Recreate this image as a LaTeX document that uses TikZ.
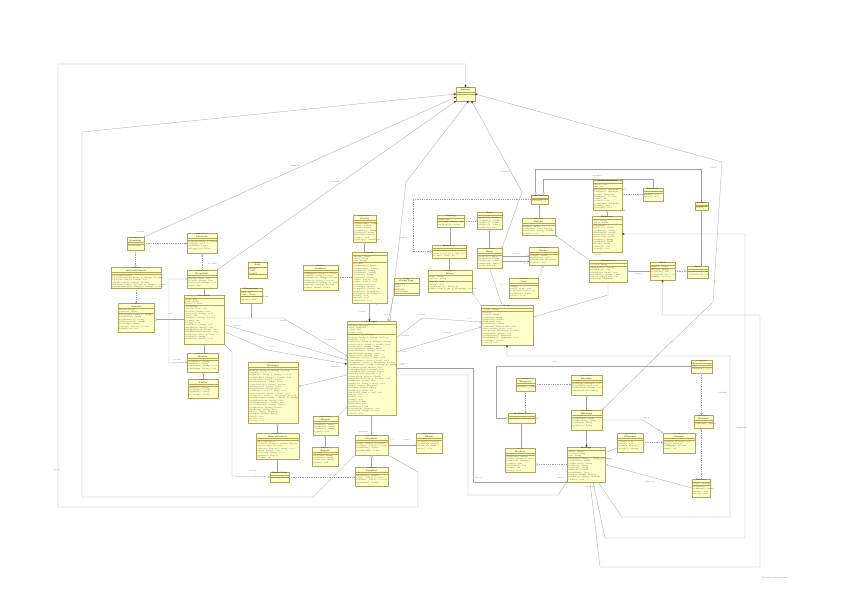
\documentclass[tikz,border=0pt]{standalone}
\usepackage{tikz}
\usetikzlibrary{arrows.meta, positioning}

\definecolor{kfill}{HTML}{FFFFC8}
\definecolor{krand}{HTML}{B4A460}
\definecolor{klinie}{HTML}{A2A2A2}
\definecolor{krot}{HTML}{8B1A1A}

% Klasse: Name, Position, Breite, Hoehe, Titel, Strich 1, Strich 2, Attribute, Methoden
\newcommand{\klasse}[9]{%
	\node[kbox, minimum width=#3pt, minimum height=#4pt] (#1) at (#2) {};
	\node[ktitel] at (#1.north) {#5};
	\draw[kstrich] ([yshift=-#6pt]#1.north west) -- ([yshift=-#6pt]#1.north east);
	\draw[kstrich] ([yshift=-#7pt]#1.north west) -- ([yshift=-#7pt]#1.north east);
	\node[ktext] at ([yshift=-#6pt]#1.north west) {#8};
	\node[ktext] at ([yshift=-#7pt]#1.north west) {#9};
}

\begin{document}
\begin{tikzpicture}[x=1pt, y=-1pt,
	kbox/.style={draw=krand, fill=kfill, line width=0.35pt, anchor=north west, inner sep=0pt, outer sep=0pt},
	ktitel/.style={anchor=north, inner sep=0.4pt, align=center, text=black!85, font=\fontsize{1.9}{2.2}\selectfont},
	ktext/.style={anchor=north west, inner sep=0.5pt, align=left, text=black!80, font=\fontsize{1.8}{2.3}\selectfont},
	kstrich/.style={draw=krand, line width=0.3pt},
	verb/.style={draw=klinie, line width=0.28pt},
	abh/.style={verb, dash pattern=on 1pt off 0.8pt, -{Straight Barb[length=1.4pt, width=2pt]}},
	vererb/.style={verb, -{Triangle[open, length=2.4pt, width=2.6pt, fill=white]}},
	realis/.style={vererb, dash pattern=on 1pt off 0.8pt},
	nav/.style={verb, -{Straight Barb[length=1.4pt, width=2pt]}},
	nav2/.style={verb, {Straight Barb[length=1.4pt, width=2pt]}-{Straight Barb[length=1.4pt, width=2pt]}},
	komp/.style={verb, {Diamond[color=krot, fill=krot, length=2.6pt, width=1.8pt]}-},
	kompnav/.style={verb, {Diamond[color=krot, fill=krot, length=2.6pt, width=1.8pt]}-{Straight Barb[length=1.4pt, width=2pt]}},
	kompe/.style={verb, -{Diamond[color=krot, fill=krot, length=2.6pt, width=1.8pt]}},
	aggr/.style={verb, {Diamond[open, fill=white, length=2.6pt, width=1.8pt]}-},
	lbl/.style={font=\fontsize{1.7}{2}\selectfont, inner sep=0.2pt, text=black!70}]

	% Rahmen
	\fill[white] (0,0) rectangle (848,600);
	\useasboundingbox (0,0) rectangle (848,600);

	% Klassen links
	\klasse{sys}{456,87}{19}{14}{«system»\\\textbf{Sistema}}{5.6}{7.6}{}{}
	\klasse{launcher}{127,237}{17}{13}{«control»\\\textbf{Launcher}}{5.6}{7.2}{}{+main(args)}
	\klasse{iaccount}{187,233}{30}{20}{«interface»\\\textbf{IAccount}}{5.6}{7.2}{}{+login(u: String, p: String)\\+logout(): void\\+getUser(): User\\+isLogged(): boolean}
	\klasse{accctl}{111,267}{50}{21}{«control»\\\textbf{AccountControl}}{5.6}{7.2}{}{+AccountControl()\\+createAccount(u: String, p: String): Account\\+deleteAccount(id: String): void\\+findAccount(id: String): Account\\+updateAccount(a: Account, m: String): boolean\\+checkPassword(id: String, p: String): boolean}
	\klasse{account}{118,303}{36}{29}{«entity»\\\textbf{Account}}{5.6}{10.6}{-userId: String\\-password: String}{+Account(u: String, p: String)\\+getUserId(): String\\+getPassword(): String\\+setPassword(p: String)\\+toString(): String\\+equals(o: Object): boolean\\+hashCode(): int}
	\klasse{iuserdao}{187,270}{30}{18}{«interface»\\\textbf{IUserDAO}}{5.6}{7.2}{}{+save(u: User): void\\+load(id: String): User\\+remove(id: String): void\\+list(): List}
	\klasse{userdao}{184,295}{40}{49}{\textbf{UserDAO}}{3.2}{10.4}{-users: Map\\-path: String\\-loaded: boolean}{+UserDAO()\\+save(u: User): void\\+load(id: String): User\\+remove(id: String): void\\+list(): List\\+exists(id: String): boolean\\+count(): int\\+clear(): void\\-readFile(p: String): void\\-writeFile(p: String): void\\+findByName(n: String): User\\+findByMail(m: String): User\\+update(u: User): boolean\\+getPath(): String\\+setPath(p: String): void}
	\klasse{iprofile}{187,353}{31}{19}{«interface»\\\textbf{IProfile}}{5.6}{7.2}{}{+getName(): String\\+getMail(): String\\+setName(n: String): void\\+setMail(m: String): void}
	\klasse{profile}{188,379}{30}{19}{«entity»\\\textbf{Profile}}{5.6}{7.2}{}{+Profile(n: String)\\+getName(): String\\+getMail(): String\\+toString(): String}
	\klasse{role}{248,262}{19}{16}{«enum»\\\textbf{Role}}{5.6}{12.5}{ADMIN\\USER\\GUEST}{}
	\klasse{perm}{240,288}{22}{15}{\textbf{Permission}}{3.2}{7.8}{-level: int\\-name: String}{+check(r: Role): boolean\\+grant(r: Role)}

	% Klassen Mitte
	\klasse{validator}{303,265}{35}{25}{«utility»\\\textbf{Validator}}{5.6}{7.2}{}{+isEmpty(s: String): boolean\\+isMail(s: String): boolean\\+isNumber(s: String): boolean\\+isDate(s: String): boolean\\+isAmount(s: String): boolean\\+isCode(s: String): boolean\\+trim(s: String): String}
	\klasse{icredit}{353,215}{23}{27}{«interface»\\\textbf{ICredit}}{5.6}{7.2}{}{+getAmount(): double\\+add(v: double)\\+sub(v: double)\\+getOwner(): String\\+getDate(): String\\+isValid(): boolean\\+reset(): void\\+getType(): CreditType}
	\klasse{credit}{352,252}{35}{51}{\textbf{Credit}}{3.2}{10.4}{-amount: double\\-owner: String\\-date: String}{+Credit()\\+getAmount(): double\\+setAmount(a: double)\\+getOwner(): String\\+setOwner(o: String)\\+getDate(): String\\+setDate(d: String)\\+add(v: double): void\\+sub(v: double): void\\+isValid(): boolean\\+toString(): String\\+compare(c: Credit): int\\+getType(): CreditType\\+setType(t: CreditType)\\+reset(): void\\+freeze(): void\\+unfreeze(): void}
	\klasse{credtype}{394,278}{25}{17}{«enum»\\\textbf{CreditType}}{5.6}{14.8}{BONUS\\GIFT\\REFUND\\STANDARD}{}
	\klasse{manager}{347,321}{49}{94}{\textbf{Manager}}{3.2}{12.8}{-instance: Manager\\-users: UserDAO\\-orders: List\\-credits: List}{+getInstance(): Manager\\+login(u: String, p: String): boolean\\+logout(): void\\+register(u: String, p: String): boolean\\+addCredit(u: String, v: double): void\\+getCredit(u: String): double\\+createOrder(u: String): Order\\+cancelOrder(id: String): boolean\\+findOrder(id: String): Order\\+listOrders(u: String): List\\+addItem(o: Order, i: Item): void\\+removeItem(o: Order, i: Item): void\\+checkout(o: Order, p: IPayment): boolean\\+sendMessage(f: String, t: String, m: String): void\\+readMessages(u: String): List\\+deleteMessage(id: String): void\\+createReport(u: String): Report\\+printReport(r: Report): void\\+getProfile(u: String): Profile\\+setProfile(u: String, p: Profile): void\\+getRole(u: String): Role\\+setRole(u: String, r: Role): void\\+ship(o: Order): Shipment\\+track(id: String): String\\+getStock(i: Item): int\\+setStock(i: Item, n: int): void\\+save(): void\\+load(): void\\+reset(): void\\+getUsers(): List\\+getItems(): List\\+getShelves(): List\\+notifyAll(m: Message): void\\+validate(s: String): boolean\\+close(): void}
	\klasse{imanager}{248,362}{50}{61}{«interface»\\\textbf{IManager}}{5.6}{7.2}{}{+login(u: String, p: String): boolean\\+logout(): void\\+register(u: String, p: String): boolean\\+addCredit(u: String, v: double): void\\+getCredit(u: String): double\\+createOrder(u: String): Order\\+cancelOrder(id: String): boolean\\+findOrder(id: String): Order\\+listOrders(u: String): List\\+addItem(o: Order, i: Item): void\\+removeItem(o: Order, i: Item): void\\+checkout(o: Order, p: IPayment): boolean\\+sendMessage(f: String, t: String, m: String)\\+readMessages(u: String): List\\+deleteMessage(id: String): void\\+createReport(u: String): Report\\+getProfile(u: String): Profile\\+getRole(u: String): Role\\+ship(o: Order): Shipment\\+track(id: String): String\\+save(): void\\+load(): void\\+close(): void}
	\klasse{repctl}{256,433}{43}{26}{«control»\\\textbf{ReportControl}}{5.6}{7.2}{}{+ReportControl()\\+create(u: String, t: String): Report\\+print(r: Report): void\\+export(r: Report, f: String): void\\+list(u: String): List\\+delete(id: String): void\\+getLast(): Report\\+count(): int}
	\klasse{ireport}{313,416}{25}{19}{«interface»\\\textbf{IReport}}{5.6}{7.2}{}{+getTitle(): String\\+getBody(): String\\+getDate(): String\\+print(): void}
	\klasse{report}{312,447}{26}{19}{«entity»\\\textbf{Report}}{5.6}{7.2}{}{+Report(t: String)\\+getTitle(): String\\+getBody(): String\\+print(): void}
	\klasse{repview}{270,472}{19}{10}{\textbf{ReportView}}{3.2}{4.8}{}{+show(r: Report)}
	\klasse{ipay}{355,435}{33}{20}{«interface»\\\textbf{IPayment}}{5.6}{7.2}{}{+pay(v: double): boolean\\+refund(v: double): boolean\\+getStatus(): String\\+getAmount(): double}
	\klasse{payment}{355,467}{33}{19}{«entity»\\\textbf{Payment}}{5.6}{7.2}{}{+Payment(v: double)\\+pay(v: double): boolean\\+refund(v: double): boolean\\+getStatus(): String}
	\klasse{ibank}{416,433}{26}{20}{«interface»\\\textbf{IBank}}{5.6}{7.2}{}{+connect(): boolean\\+transfer(v: double)\\+balance(): double\\+close(): void}

	% Klassen rechts oben
	\klasse{catalog}{437,215}{27}{12}{\textbf{Catalog}}{3.2}{5.8}{-items: List}{+search(k: String): List\\+getItem(id: String)}
	\klasse{item}{477,212}{25}{17}{\textbf{Item}}{3.2}{4.8}{}{+getCode(): String\\+getName(): String\\+getPrice(): double\\+setPrice(p: double)\\+getStock(): int}
	\klasse{inventory}{432,245}{34}{13}{\textbf{Inventory}}{3.2}{4.8}{}{+add(i: Item, n: int): void\\+remove(i: Item, n: int): void\\+count(i: Item): int}
	\klasse{istore}{428,270}{44}{22}{«interface»\\\textbf{IStore}}{5.6}{10.8}{-name: String\\-address: String}{+open(): void\\+close(): void\\+getInventory(): Inventory\\+sell(i: Item, n: int, p: IPayment): boolean}
	\klasse{iitem}{477,248}{25}{20}{«interface»\\\textbf{IItem}}{5.6}{7.2}{}{+getCode(): String\\+getName(): String\\+getPrice(): double\\+setPrice(p: double)\\+getStock(): int}
	\klasse{order}{481,305}{52}{40}{\textbf{Order}}{3.2}{6.4}{-orderId: String}{+Order()\\+getId(): String\\+getDate(): String\\+getTotal(): double\\+getItems(): List\\+getStatus(): String\\+addItem(i: Item, n: int): void\\+removeItem(i: Item): void\\+checkout(p: IPayment): boolean\\+setStatus(s: String): void\\+getShipment(): Shipment\\+setShipment(s: Shipment): void\\+toString(): String\\+cancel(): void}
	\klasse{ofactory}{531,195}{17}{9}{\textbf{OrderFactory}}{3.2}{4.6}{}{+create()}
	\klasse{builder}{522,218}{33}{17}{«abstract»\\\textbf{Builder}}{5.6}{7.2}{}{+build(): Order\\+setItems(l: List): Builder\\+setUser(u: String): Builder\\+reset(): void}
	\klasse{iorder}{529,247}{29}{18}{«interface»\\\textbf{IOrder}}{5.6}{7.2}{}{+getId(): String\\+getTotal(): double\\+checkout(p: IPayment)\\+cancel(): void}
	\klasse{cart}{509,278}{29}{20}{«entity»\\\textbf{Cart}}{5.6}{7.2}{}{+Cart()\\+add(i: Item): void\\+remove(i: Item): void\\+getTotal(): double\\+clear(): void}
	\klasse{shipq}{593,180}{29}{30}{\textbf{ShipmentQueue}}{3.2}{8.4}{-queue: List\\-size: int}{+enqueue(s: Shipment): void\\+dequeue(): Shipment\\+peek(): Shipment\\+isEmpty(): boolean\\+size(): int\\+clear(): void\\+contains(s: Shipment)\\+toList(): List\\+process(): void}
	\klasse{sched}{643,188}{20}{13}{\textbf{Scheduler}}{3.2}{5.5}{}{+start(): void\\+stop(): void}
	\klasse{shipment}{592,216}{30}{36}{\textbf{Shipment}}{3.2}{8.4}{-code: String\\-status: String}{+Shipment()\\+getCode(): String\\+getStatus(): String\\+setStatus(s: String)\\+getOrder(): Order\\+setOrder(o: Order)\\+getDate(): String\\+getShelf(): Shelf\\+track(): String\\+deliver(): void\\+cancel(): void}
	\klasse{warehouse}{589,260}{38}{22}{\textbf{Warehouse}}{3.2}{6.4}{-location: String}{+Warehouse(l: String)\\+getShelves(): List\\+addShelf(s: Shelf): void\\+findShelf(c: String): Shelf\\+store(s: Shipment): void\\+release(s: Shipment)}
	\klasse{shelf}{650,262}{25}{18}{\textbf{Shelf}}{3.2}{6.4}{-number: String}{+Shelf(n: String)\\+getSlots(): List\\+addSlot(s: Slot): void\\+isFull(): boolean}
	\klasse{slot}{687,266}{21}{12}{\textbf{Slot}}{3.2}{4.8}{}{+getPosition(): int\\+setPosition(p: int)}
	\klasse{locker}{695,202}{13}{8}{\textbf{Locker}}{3.2}{4.6}{}{+open()}

	% Klassen rechts unten
	\klasse{template}{516,378}{19}{13}{«entity»\\\textbf{Template}}{5.6}{7.2}{}{+format(): String}
	\klasse{inotifier}{571,375}{31}{20}{«interface»\\\textbf{INotifier}}{5.6}{7.2}{}{+notify(m: Message): void\\+notifyAll(l: List): void\\+subscribe(u: String): void\\+unsubscribe(u: String)}
	\klasse{mailnot}{508,413}{27}{10}{\textbf{MailNotifier}}{3.2}{4.8}{}{+notify(m: Message): void}
	\klasse{imessage}{571,410}{31}{20}{«interface»\\\textbf{IMessage}}{5.6}{7.2}{}{+getSender(): String\\+getReceiver(): String\\+getText(): String\\+getDate(): String}
	\klasse{mailbox}{505,448}{30}{24}{«entity»\\\textbf{Mailbox}}{5.6}{7.2}{}{+Mailbox(u: String)\\+add(m: Message): void\\+remove(m: Message)\\+getAll(): List\\+getUnread(): List\\+count(): int\\+clear(): void}
	\klasse{message}{567,447}{38}{35}{\textbf{Message}}{3.2}{10.4}{-sender: String\\-receiver: String\\-text: String}{+Message(f: String, t: String, m: String)\\+getSender(): String\\+getReceiver(): String\\+getText(): String\\+getDate(): String\\+isRead(): boolean\\+markRead(): void\\+reply(t: String): Message\\+forward(u: String): Message\\+delete(): void}
	\klasse{ichannel}{617,433}{26}{19}{«interface»\\\textbf{IChannel}}{5.6}{7.2}{}{+open(): void\\+close(): void\\+send(m: Message)\\+receive(): Message}
	\klasse{iqueue}{663,433}{32}{20}{«interface»\\\textbf{IQueue}}{5.6}{7.2}{}{+push(m: Message): void\\+pop(): Message\\+isEmpty(): boolean\\+size(): int}
	\klasse{chanmgr}{691,360}{21}{13}{«control»\\\textbf{ChannelManager}}{5.6}{7.2}{}{+dispatch(): void}
	\klasse{ilistener}{694,415}{19}{13}{«interface»\\\textbf{IListener}}{5.6}{7.2}{}{+onEvent(e: Event)}
	\klasse{listener}{692,479}{18}{18}{\textbf{Listener}}{3.2}{6.4}{-active: boolean}{+Listener()\\+onEvent(e: Event)\\+start(): void\\+stop(): void}

	% Verbindungen zum System
	\draw[komp] (sys.north) -- (465.5,64) -- (58,64) -- (58,507) -- (418,507) -- (418,472) -- (ipay.south east);
	\draw[komp] (sys.west) -- (82,132) -- (82,497) -- (313,497) -- (ipay.south west);
	\draw[kompnav] ([yshift=-3pt]sys.west) -- (launcher.north east);
	\draw[kompnav] (sys.south west) -- (iuserdao.north east);
	\draw[kompnav] ([xshift=3pt]sys.south) -- (406,182) -- ([xshift=-6pt]manager.north east);
	\draw[kompnav] ([xshift=6pt]sys.south) -- (522,192) -- (iitem.north east);
	\draw[kompnav] (sys.east) -- (722,162) -- (713,302) -- (663,350) -- (imessage.north east);

	% Verbindungen links
	\draw[abh] (launcher.east) -- (launcher.east -| iaccount.west);
	\draw[abh] (launcher.south) -- (launcher.south |- accctl.north);
	\draw[abh] (accctl.south) -- (accctl.south |- account.north);
	\draw[realis] (iuserdao.north) -- (iuserdao.north |- iaccount.south);
	\draw[verb] (userdao.north) -- (userdao.north |- iuserdao.south);
	\draw[vererb] (userdao.west) -- (userdao.west -| account.east);
	\draw[nav2] (iuserdao.west) -- (169,279) -- (169,363) -- (iprofile.west);
	\draw[verb] (userdao.south) -- (userdao.south |- iprofile.north);
	\draw[vererb] (profile.north) -- (profile.north |- iprofile.south);
	\coordinate (k1) at (283,318);
	\draw[nav] (userdao.east |- k1) -- (k1) -- ([yshift=12pt]manager.west);
	\draw[verb] (perm.south) -- (perm.south |- k1);
	\draw[nav] ([yshift=-5pt]userdao.east) -- ([yshift=8pt]manager.west);
	\draw[kompe] ([yshift=-12pt]userdao.east) -- (267,350) -- ([yshift=4pt]manager.west);
	\draw[nav] (userdao.south east) -- (232,352) -- (232,476) -- (repview.west);

	% Verbindungen Mitte
	\draw[abh] (validator.east) -- (validator.east -| credit.west);
	\draw[vererb] (credit.north -| icredit.south) -- (icredit.south);
	\draw[kompe] (credit.south) -- (credit.south |- manager.north);
	\draw[nav] (credtype.south west) -- ([xshift=-8pt]manager.north east);
	\draw[nav] ([yshift=-17pt]manager.north east) -- (422,318) -- ([yshift=-17pt]order.north west);
	\draw[nav] ([yshift=-31pt]manager.north east) -- ([yshift=-22pt]order.north west);
	\draw[nav] ([yshift=-47pt]manager.north east) -- (473,368) -- (473,482) -- ([yshift=-17.5pt]message.west);
	\draw[nav] ([yshift=-54pt]manager.north east) -- (468,375) -- (468,495) -- (558,495) -- (message.south west);
	\draw[vererb] ([yshift=-7pt]manager.west) -- ([yshift=6pt]imanager.east);
	\draw[verb] (ireport.north east) -- ([yshift=-39pt]manager.west);
	\draw[vererb] (report.north) -- (report.north |- ireport.south);
	\draw[vererb] (repctl.north) -- (repctl.north |- imanager.south);
	\draw[verb] (repctl.south) -- (repctl.south |- repview.north);
	\draw[abh] (repview.east) -- (repview.east -| payment.west);
	\draw[verb] (ipay.north) -- (ipay.north |- manager.south);
	\draw[vererb] (payment.north) -- (payment.north |- ipay.south);
	\draw[nav] (ipay.east) -- (ipay.east -| ibank.west);

	% Verbindungen rechts oben
	\draw[abh] (catalog.east) -- (catalog.east -| item.west);
	\draw[verb] (catalog.south) -- (catalog.south |- inventory.north);
	\coordinate (k2) at (413,0);
	\draw[realis] (ofactory.west) -| (k2 |- inventory.west) -- (inventory.west);
	\draw[verb] (inventory.south) -- (inventory.south |- istore.north);
	\draw[vererb] (iitem.north) -- (iitem.north |- item.south);
	\draw[nav] ([yshift=2pt]iitem.east) -- ([yshift=2pt]iitem.east -| iorder.west);
	\draw[nav] ([yshift=-3pt]iitem.east) -- ([yshift=-3pt]iitem.east -| iorder.west);
	\draw[vererb] (cart.north east) -- (iorder.south);
	\draw[verb] (iitem.south) -- ([xshift=-5pt]order.north);
	\draw[realis] (order.north west) -- (istore.south east);
	\draw[nav] (warehouse.south) -- (608,295) -- ([yshift=8pt]order.east);
	\draw[verb] (ofactory.south) -- (ofactory.south |- builder.north);
	\draw[vererb] (warehouse.north west) -- (builder.south east);
	\draw[vererb] (locker.north) -- (locker.north |- 0,169) -| ([xshift=-4pt]ofactory.north);
	\draw[vererb] (sched.north) -- (sched.north |- 0,179) -| ([xshift=4pt]ofactory.north);
	\draw[abh] (sched.west) -- (sched.west -| shipq.east);
	\draw[vererb] (shipment.north) -- (shipment.north |- shipq.south);
	\draw[aggr] (warehouse.east) -- (warehouse.east -| shelf.west);
	\draw[realis] (shelf.east) -- (shelf.east -| slot.west);
	\draw[verb] (locker.south) -- (locker.south |- slot.north);
	\draw[komp] (shipment.east) -- (745,234) -- (745,538) -- (605,538) -- ([xshift=7pt]message.south);
	\draw[komp] (shelf.south) -- (shelf.south |- 0,315) -- (760,315) -- (760,567) -- (600,567) -- ([xshift=4pt]message.south);
	\draw[komp] (order.south) -- (order.south |- 0,356) -- (730,356) -- (730,517) -- (622,517) -- ([xshift=12pt]message.south);

	% Verbindungen rechts unten
	\draw[abh] (template.east) -- (template.east -| inotifier.west);
	\draw[abh] (template.south) -- (template.south |- mailnot.north);
	\draw[verb] (mailnot.south) -- (mailnot.south |- mailbox.north);
	\draw[vererb] (chanmgr.west) -| ([xshift=-12pt]mailnot.west) -- (mailnot.west);
	\draw[vererb] (imessage.north) -- (imessage.north |- inotifier.south);
	\draw[nav] (imessage.east) -- (643,420) -- (iqueue.north west);
	\draw[kompe] (imessage.south) -- (imessage.south |- message.north);
	\draw[realis] (message.west) -- (message.west -| mailbox.east);
	\draw[verb] ([yshift=11.5pt]message.east) -- ([yshift=-5.5pt]ichannel.west);
	\draw[abh] (ichannel.east) -- (ichannel.east -| iqueue.west);
	\draw[abh] (chanmgr.south) -- (chanmgr.south |- ilistener.north);
	\draw[realis] (listener.north) -- (listener.north |- ilistener.south);
	\draw[vererb] (listener.west) -- (message.east);

	% Rollen und Beschriftungen
	\node[lbl] (lb1) at (295,166) {-launcher};
	\node[lbl] (lb2) at (335,182) {-userDAO};
	\node[lbl] (lb3) at (404,238) {-manager};
	\node[lbl] (lb4) at (505,172) {-itemList};
	\node[lbl] (lb5) at (714,168) {-queue};
	\node[lbl] (lb6) at (140,232) {-system};
	\node[lbl] (lb7) at (212,264) {-accounts};
	\node[lbl] (lb8) at (57,470) {-mode};
	\node[lbl] (lb9) at (170,314) {-owner};
	\node[lbl] (lb10) at (177,360) {-profiles};
	\node[lbl] (lb13) at (283,321) {-users};
	\node[lbl] (lb14) at (237,326) {-session};
	\node[lbl] (lb15) at (272,347) {-roles};
	\node[lbl] (lb16) at (330,340) {-permissions};
	\node[lbl] (lb18) at (336,367) {-manager};
	\node[lbl] (lb19) at (252,471) {-reports};
	\node[lbl] (lb20) at (362,312) {-credits};
	\node[lbl] (lb21) at (377,305) {1};
	\node[lbl] (lb22) at (386,315) {-type};
	\node[lbl] (lb23) at (422,315) {-orders};
	\node[lbl] (lb24) at (470,319) {0..*};
	\node[lbl] (lb25) at (447,333) {-current};
	\node[lbl] (lb47) at (404,336) {-orderList};
	\node[lbl] (lb48) at (404,352) {-active};
	\node[lbl] (lb49) at (404,364) {-inbox};
	\node[lbl] (lb26) at (478,478) {-inbox};
	\node[lbl] (lb27) at (555,362) {uses};
	\node[lbl] (lb28) at (516,254) {-items};
	\node[lbl] (lb29) at (526,264) {0..1};
	\node[lbl] (lb30) at (503,285) {-store};
	\node[lbl] (lb31) at (492,302) {1};
	\node[lbl] (lb33) at (598,255) {-builder};
	\node[lbl] (lb34) at (638,274) {-shelves};
	\node[lbl] (lb35) at (597,176) {-scheduler};
	\node[lbl] (lb36) at (623,211) {-tasks};
	\node[lbl] (lb37) at (742,428) {-shipments};
	\node[lbl] (lb38) at (722,393) {-orderList};
	\node[lbl] (lb39) at (647,418) {-queue};
	\node[lbl] (lb40) at (660,431) {0..1};
	\node[lbl] (lb41) at (650,482) {-listeners};
	\node[lbl] (lb42) at (560,478) {-outbox};
	\node[lbl] (lb43) at (590,487) {-messages};
	\node[lbl] (lb44) at (363,432) {-payment};
	\node[lbl] (lb45) at (392,440) {0..1};
	\node[lbl] (lb46) at (406,440) {-bank};
	\node[lbl] (fuss) at (775,578) {Visual Paradigm Standard};
\end{tikzpicture}
\end{document}
